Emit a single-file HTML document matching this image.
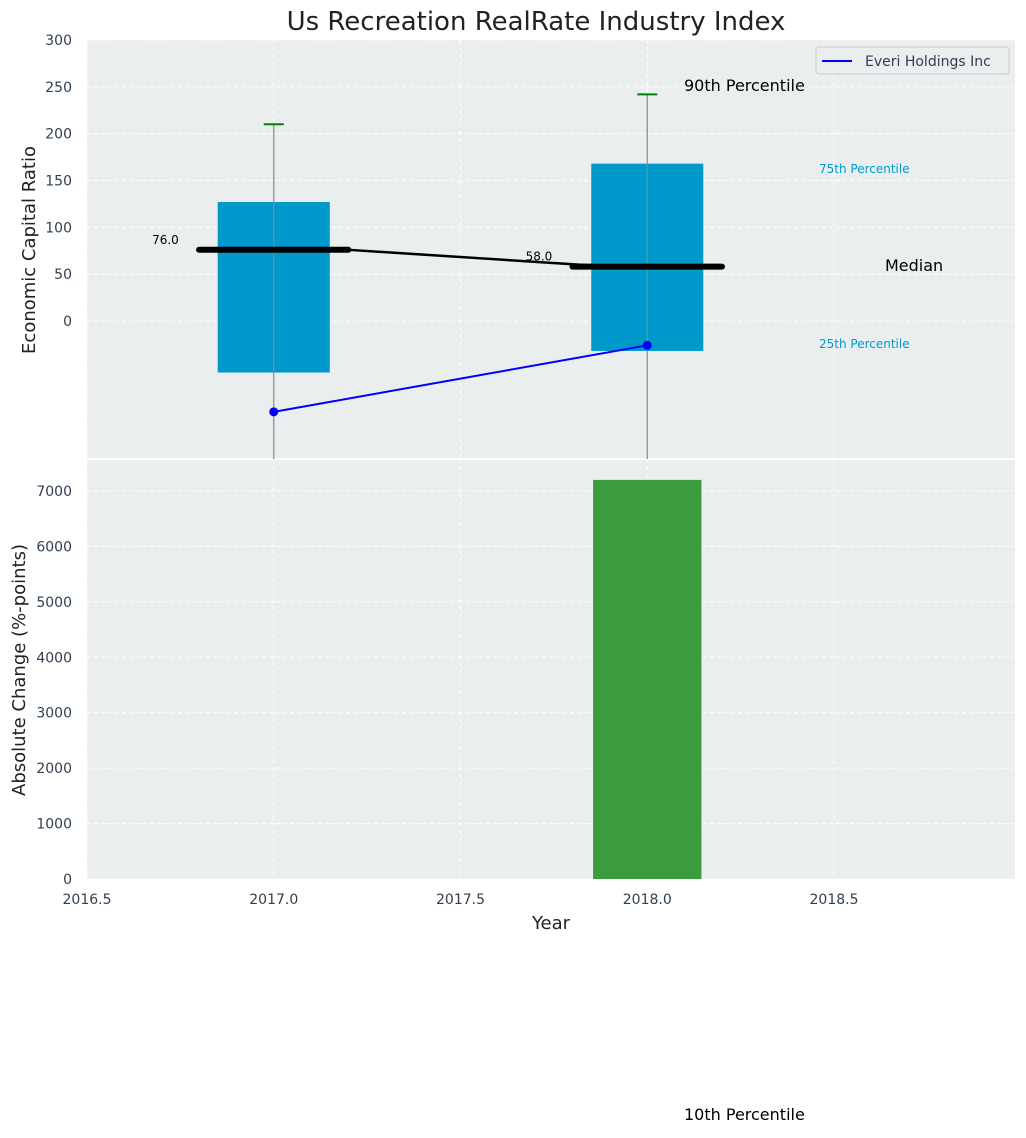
<!DOCTYPE html>
<html><head><meta charset="utf-8"><style>
body{margin:0;background:#fff;font-family:"Liberation Sans","DejaVu Sans",sans-serif}
svg text{font-family:"DejaVu Sans","Liberation Sans",sans-serif}
</style></head><body>
<svg id="c" width="1026" height="1133" xmlns="http://www.w3.org/2000/svg"></svg>
<script>
const years=[2017,2018];
const p25=[-55,-32];
const p75=[127,168];
const p90=[210,242];
const medians=[76,58];
const company=[-97,-26];
const changeYears=[2018];
const changes=[7200];
const yTopTicks=[0,50,100,150,200,250,300];
const yBotTicks=[0,1000,2000,3000,4000,5000,6000,7000];
const xTicks=[2016.5,2017.0,2017.5,2018.0,2018.5];

const svg=document.getElementById('c');
const NS='http://www.w3.org/2000/svg';
function el(t,a,txt){const e=document.createElementNS(NS,t);for(const k in a)e.setAttribute(k,a[k]);if(txt!==undefined)e.textContent=txt;svg.appendChild(e);return e;}
const L=87,R=1015,T1=40,B1=459,T2=459,B2=879;
const X=v=>L+(v-2016.5)*373.5;
const Y1=v=>321-v*0.9367;
const Y2=v=>B2-v*(388/7000);

let e;
e=el('rect',{x:L,y:T1,width:R-L,height:B1-T1,fill:'#eaeeee'});

e=el('rect',{x:L,y:T2+1,width:R-L,height:B2-T2-1,fill:'#eaeeee'});

el('line',{x1:L,x2:R,y1:459,y2:459,stroke:'#fff','stroke-width':2});
xTicks.forEach(t=>{[[T1,B1],[T2,B2]].forEach(r=>{el('line',{x1:X(t),x2:X(t),y1:r[0],y2:r[1],stroke:'#fff','stroke-dasharray':'4,3','stroke-width':1});});});
yTopTicks.forEach(t=>{el('line',{x1:L,x2:R,y1:Y1(t),y2:Y1(t),stroke:'#fff','stroke-dasharray':'4,3'});
 e=el('text',{x:72,y:Y1(t)+5,'text-anchor':'end','font-size':14,fill:'#2f3e50'},t);
 });
yBotTicks.forEach(t=>{el('line',{x1:L,x2:R,y1:Y2(t),y2:Y2(t),stroke:'#fff','stroke-dasharray':'4,3'});
 e=el('text',{x:72,y:Y2(t)+5,'text-anchor':'end','font-size':14,fill:'#2f3e50'},t);
 });
xTicks.forEach(t=>{e=el('text',{x:X(t),y:904,'text-anchor':'middle','font-size':14,fill:'#2f3e50'},t.toFixed(1));
 });
years.forEach((y,i)=>{
 e=el('rect',{x:X(y-0.15),y:Y1(p75[i]),width:X(y+0.15)-X(y-0.15),height:Y1(p25[i])-Y1(p75[i]),fill:'#0099cc'});
 
 e=el('line',{x1:X(y),x2:X(y),y1:Y1(p90[i]),y2:B1,stroke:'#888','stroke-width':1.2});
 
 e=el('line',{x1:X(y)-10,x2:X(y)+10,y1:Y1(p90[i]),y2:Y1(p90[i]),stroke:'green','stroke-width':2});
 
});
e=el('line',{x1:X(years[0]+0.2),y1:Y1(medians[0]),x2:X(years[1]-0.1),y2:Y1(medians[1]),stroke:'#000','stroke-width':2.5});

years.forEach((y,i)=>{
 e=el('line',{x1:X(y-0.2),x2:X(y+0.2),y1:Y1(medians[i]),y2:Y1(medians[i]),stroke:'#000','stroke-width':6,'stroke-linecap':'round'});
 
 e=el('text',{x:X(y-0.29),y:Y1(medians[i])-6,'text-anchor':'middle','font-size':12,fill:'#000'},medians[i].toFixed(1));
 
});
let pts=years.map((y,i)=>X(y)+','+Y1(company[i])).join(' ');
e=el('polyline',{points:pts,fill:'none',stroke:'blue','stroke-width':2});

years.forEach((y,i)=>{e=el('circle',{cx:X(y),cy:Y1(company[i]),r:4.5,fill:'blue'});
 });
changeYears.forEach((y,i)=>{e=el('rect',{x:X(y-0.145),y:Y2(changes[i]),width:X(y+0.145)-X(y-0.145),height:B2-Y2(changes[i]),fill:'#3c9b3c'});
 });
function t(x,y,s,sz,c,n,a){e=el('text',{x:x,y:y,'font-size':sz,fill:c,'text-anchor':a||'start'},s);}
t(684,91,'90th Percentile',16,'#000','p90-annotation');
t(819,173,'75th Percentile',12,'#0099cc','p75-annotation');
t(885,271,'Median',16,'#000','median-annotation');
t(819,348,'25th Percentile',12,'#0099cc','p25-annotation');
t(684,1120,'10th Percentile',16,'#000','p10-annotation');
t(536,30,'Us Recreation RealRate Industry Index',26,'#222','chart-title','middle');
t(551,929,'Year',18,'#222','x-axis-title','middle');
e=el('text',{x:35,y:250,'font-size':18,fill:'#222','text-anchor':'middle',transform:'rotate(-90 35 250)'},'Economic Capital Ratio');

e=el('text',{x:25,y:670,'font-size':18,fill:'#222','text-anchor':'middle',transform:'rotate(-90 25 670)'},'Absolute Change (%-points)');

e=el('rect',{x:816,y:47,width:193,height:27,rx:3,fill:'#eaeeee',stroke:'#ccc'});

el('line',{x1:822,x2:852,y1:61,y2:61,stroke:'blue','stroke-width':2});
t(865,66,'Everi Holdings Inc',14,'#2f3e50','legend-entry');
</script>
</body></html>
